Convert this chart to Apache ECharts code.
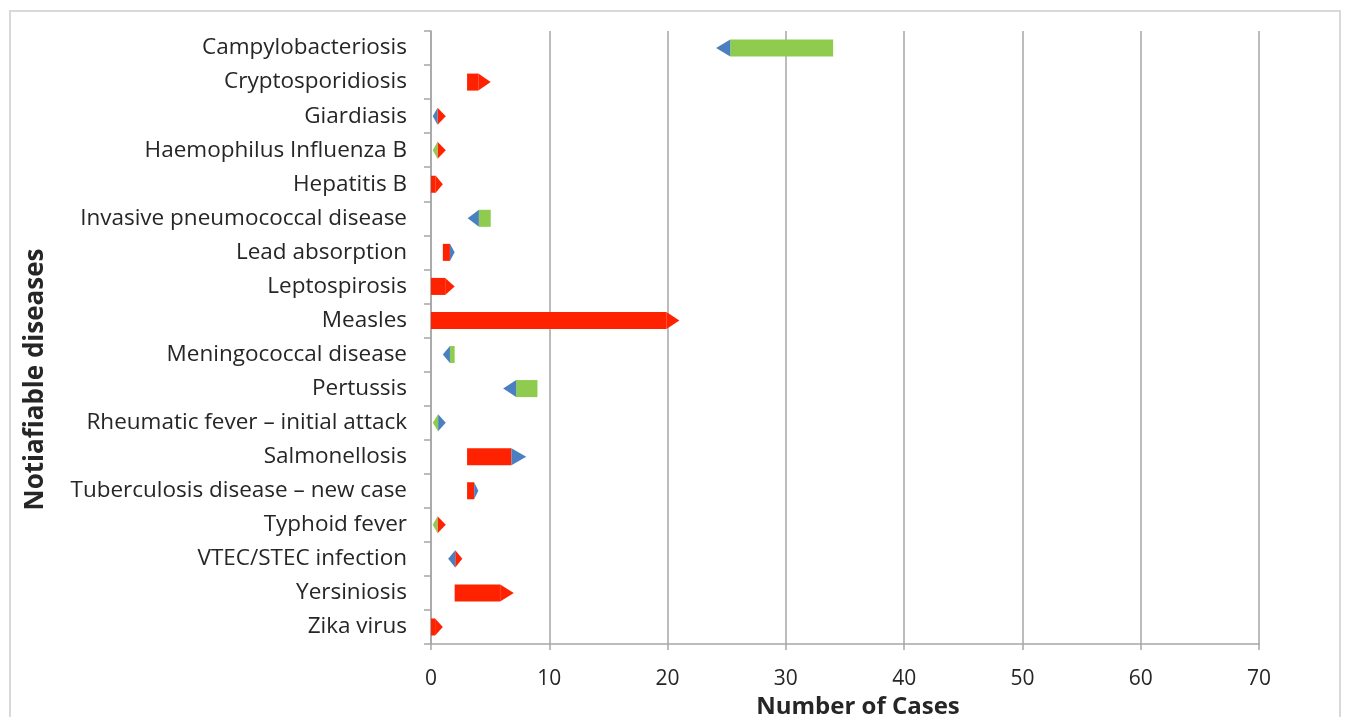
<!DOCTYPE html>
<html>
<head>
<meta charset="utf-8">
<script src="https://cdn.jsdelivr.net/npm/echarts@6/dist/echarts.min.js"></script>
<style>html,body{margin:0;padding:0;background:#fff;}#c{width:1345px;height:717px;}</style>
</head>
<body>
<div id="c"></div>
<script>
const categories = ['Campylobacteriosis','Cryptosporidiosis','Giardiasis','Haemophilus Influenza B','Hepatitis B','Invasive pneumococcal disease','Lead absorption','Leptospirosis','Measles','Meningococcal disease','Pertussis','Rheumatic fever \u2013 initial attack','Salmonellosis','Tuberculosis disease \u2013 new case','Typhoid fever','VTEC/STEC infection','Yersiniosis','Zika virus'];
const xTicks = [0,10,20,30,40,50,60,70];

// segments [from, to] in number of cases, one entry per category (null = none)
const increaseBar = [null,[3.05,4.0],null,null,[0,0.4],null,[1.0,1.6],[0,1.2],[0,19.9],null,null,null,[3.05,6.8],[3.05,3.65],null,null,[2.0,5.85],[0,0.35]];
const decreaseBar = [[25.3,34.0],null,null,null,null,[4.05,5.05],null,null,null,[1.6,2.0],[7.2,9.0],null,null,null,null,null,null,null];
const redHeadRight = [null,[4.0,5.05],[0.55,1.25],[0.55,1.25],[0.4,1.0],null,null,[1.2,2.0],[19.9,21.0],null,null,null,null,null,[0.55,1.25],[2.05,2.65],[5.85,7.0],[0.35,1.0]];
const blueHeadRight = [null,null,null,null,null,null,[1.6,2.0],null,null,null,null,[0.6,1.25],[6.8,8.05],[3.65,4.0],null,null,null,null];
const blueHeadLeft = [[24.1,25.3],null,[0.15,0.55],null,null,[3.1,4.05],null,null,null,[1.0,1.6],[6.1,7.2],null,null,null,null,[1.45,2.05],null,null];
const greenHeadLeft = [null,null,null,[0.15,0.55],null,null,null,null,null,null,null,[0.15,0.6],null,null,[0.15,0.55],null,null,null];

const RED = '#FF2200', GREEN = '#8FCB4E', BLUE = '#4A80C0';

function makeSeries(name, arr, color, shape) {
  const data = [];
  arr.forEach((seg, i) => { if (seg) data.push([i, seg[0], seg[1]]); });
  return {
    type: 'custom', name: name, data: data,
    encode: { x: [1, 2], y: 0 },
    renderItem: function (params, api) {
      const cat = api.value(0);
      const p0 = api.coord([api.value(1), cat]);
      const p1 = api.coord([api.value(2), cat]);
      const h = api.size([0, 1])[1] * 0.5;
      const yc = p0[1], y0 = yc - h / 2, y1 = yc + h / 2;
      if (shape === 'rect') {
        return { type: 'rect', shape: { x: p0[0], y: y0, width: p1[0] - p0[0], height: h }, style: { fill: color } };
      }
      let pts;
      if (shape === 'right') pts = [[p0[0], y0], [p1[0], yc], [p0[0], y1]];
      else pts = [[p1[0], y0], [p0[0], yc], [p1[0], y1]];
      return { type: 'polygon', shape: { points: pts }, style: { fill: color } };
    }
  };
}

const chart = echarts.init(document.getElementById('c'));
chart.setOption({
  animation: false,
  graphic: [{ type: 'rect', shape: { x: 10, y: 11, width: 1330, height: 720 }, style: { fill: 'none', stroke: '#d9d9d9', lineWidth: 2 }, silent: true }],
  grid: { left: 431, right: 86, top: 31, bottom: 73, containLabel: false, outerBoundsMode: 'none' },
  xAxis: {
    type: 'value', min: 0, max: 70, interval: 10,
    name: 'Number of Cases', nameLocation: 'middle', nameGap: 50,
    nameTextStyle: { fontFamily: 'Open Sans', fontWeight: 'bold', fontSize: 24, color: '#262626', padding: [0, 0, 0, 26] },
    axisLine: { show: true, lineStyle: { color: '#a6a6a6', width: 1.5 } },
    axisTick: { show: true, length: 6, lineStyle: { color: '#a6a6a6', width: 1.5 } },
    axisLabel: { margin: 25, fontFamily: 'Open Sans', fontSize: 21, color: '#262626',
      formatter: function (v) { return xTicks.indexOf(v) >= 0 ? String(v) : ''; } },
    splitLine: { show: true, lineStyle: { color: '#a6a6a6', width: 1.5 } }
  },
  yAxis: {
    type: 'category', data: categories, inverse: true,
    name: 'Notiafiable diseases', nameLocation: 'middle', nameRotate: 90, nameGap: 382,
    nameTextStyle: { fontFamily: 'Open Sans', fontWeight: 'bold', fontSize: 26, color: '#262626', padding: [0, 84, 0, 0] },
    axisLine: { show: true, lineStyle: { color: '#a6a6a6', width: 1.5 } },
    axisTick: { show: true, length: 7, lineStyle: { color: '#a6a6a6', width: 1.5 } },
    axisLabel: { margin: 24, fontFamily: 'Open Sans', fontSize: 22.5, color: '#262626' },
    splitLine: { show: false }
  },
  series: [
    makeSeries('Increase', increaseBar, RED, 'rect'),
    makeSeries('Decrease', decreaseBar, GREEN, 'rect'),
    makeSeries('Red head', redHeadRight, RED, 'right'),
    makeSeries('Blue head right', blueHeadRight, BLUE, 'right'),
    makeSeries('Blue head left', blueHeadLeft, BLUE, 'left'),
    makeSeries('Green head left', greenHeadLeft, GREEN, 'left')
  ]
});
</script>
</body>
</html>
